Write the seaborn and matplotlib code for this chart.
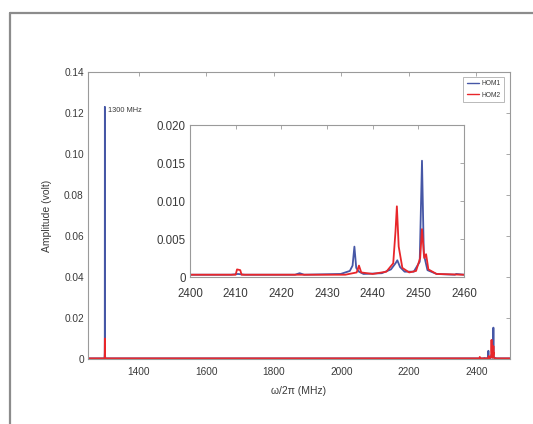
import matplotlib
matplotlib.use("Agg")
import matplotlib.pyplot as plt
import seaborn as sns
import pandas as pd
from matplotlib.lines import Line2D

# ---- data ----
hom1_freq = [1250, 1299, 1299.7, 1300, 1300.3, 1301, 2400, 2409, 2410.5, 2412, 2423, 2424, 2425,
             2433, 2435, 2435.6, 2436, 2436.4, 2437, 2438, 2442, 2444, 2445, 2445.4, 2446, 2447,
             2449, 2450.3, 2450.8, 2451.2, 2452, 2454, 2458, 2458.3, 2460, 2500]
hom1_amp = [0.0003, 0.0003, 0.003, 0.123, 0.003, 0.0003, 0.0003, 0.0003, 0.0004, 0.0003, 0.0003, 0.0005, 0.0003,
            0.0004, 0.0008, 0.0015, 0.004, 0.0012, 0.0007, 0.0004, 0.0005, 0.001, 0.0018, 0.0022, 0.0013, 0.0007,
            0.0007, 0.002, 0.0153, 0.003, 0.0009, 0.0004, 0.0003, 0.0004, 0.0003, 0.0003]

hom2_freq = [1250, 1299.5, 1300, 1300.5, 2400, 2410, 2410.3, 2411, 2411.3, 2424, 2434, 2436.5, 2437,
             2437.5, 2440, 2443, 2444.5, 2445, 2445.3, 2445.7, 2446.5, 2448, 2449.5, 2450.4, 2450.8,
             2451.3, 2451.7, 2452.2, 2454, 2460, 2500]
hom2_amp = [0.0003, 0.0003, 0.01, 0.0003, 0.0003, 0.0003, 0.001, 0.0009, 0.0003, 0.0003, 0.0003, 0.0006, 0.0015,
            0.0006, 0.0004, 0.0007, 0.0018, 0.006, 0.0093, 0.004, 0.0012, 0.0006, 0.0008, 0.0025, 0.0063,
            0.0025, 0.003, 0.001, 0.0004, 0.0003, 0.0003]

series_names = ["HOM1", "HOM2"]
main_xticks = [1400, 1600, 1800, 2000, 2200, 2400]
main_yticks = [0, 0.02, 0.04, 0.06, 0.08, 0.10, 0.12, 0.14]
main_yticklabels = ["0", "0.02", "0.04", "0.06", "0.08", "0.10", "0.12", "0.14"]
inset_xticks = [2400, 2410, 2420, 2430, 2440, 2450, 2460]
inset_yticks = [0, 0.005, 0.010, 0.015, 0.020]
inset_yticklabels = ["0", "0.005", "0.010", "0.015", "0.020"]

df = pd.concat([
    pd.DataFrame({"freq": hom1_freq, "amp": hom1_amp, "series": series_names[0]}),
    pd.DataFrame({"freq": hom2_freq, "amp": hom2_amp, "series": series_names[1]}),
], ignore_index=True)

sns.set_style("white")
plt.rcParams["font.family"] = ["Liberation Sans", "DejaVu Sans"]

palette = {"HOM1": "#4657a6", "HOM2": "#e8262a"}
text_col = "#3a3a3a"
spine_col = "#9a9a9a"

fig = plt.figure(figsize=(5.33, 4.24), dpi=100)

# outer frame (partially visible)
fig.add_artist(Line2D([10/533, 10/533], [0, 1 - 13/424], color="#8c8c8c", lw=1.6, transform=fig.transFigure))
fig.add_artist(Line2D([10/533, 1], [1 - 13/424, 1 - 13/424], color="#8c8c8c", lw=1.6, transform=fig.transFigure))

ax = fig.add_axes([88/533, 1 - 359/424, (510 - 88)/533, (359 - 72)/424])
sns.lineplot(data=df, x="freq", y="amp", hue="series", palette=palette, estimator=None,
             sort=False, lw=1.3, ax=ax)
ax.set_xlim(1250, 2500)
ax.set_ylim(0, 0.14)
ax.set_xticks(main_xticks)
ax.set_xticklabels([str(t) for t in main_xticks])
ax.set_yticks(main_yticks)
ax.set_yticklabels(main_yticklabels)
ax.tick_params(direction="in", top=True, right=True, length=3, width=0.6, colors=spine_col,
               labelcolor=text_col, labelsize=7.3, pad=3)
ax.tick_params(axis="x", pad=6)
for s in ax.spines.values():
    s.set_color(spine_col)
    s.set_linewidth(0.8)
ax.set_xlabel("ω/2π (MHz)", fontsize=7.5, color=text_col, labelpad=6)
ax.set_ylabel("Amplitude (volt)", fontsize=7.5, color=text_col, labelpad=9)
ax.text(1309, 0.121, "1300 MHz", fontsize=5.3, color=text_col, va="center", ha="left")

handles = [Line2D([], [], color=palette[n], lw=1.0) for n in series_names]
leg = ax.legend(handles, series_names, loc="upper right", bbox_to_anchor=(0.993, 0.995),
                fontsize=4.8, frameon=True, fancybox=False, handlelength=1.8,
                borderpad=0.5, labelspacing=0.7, handletextpad=0.4)
leg.get_frame().set_edgecolor("#9a9a9a")
leg.get_frame().set_linewidth(0.6)
for t in leg.get_texts():
    t.set_color(text_col)

# inset
axi = fig.add_axes([190/533, 1 - 277/424, (464 - 190)/533, (277 - 125)/424])
sns.lineplot(data=df, x="freq", y="amp", hue="series", palette=palette, estimator=None,
             sort=False, lw=1.3, ax=axi, legend=False)
axi.set_xlim(2400, 2460)
axi.set_ylim(0, 0.020)
axi.set_xticks(inset_xticks)
axi.set_xticklabels([str(t) for t in inset_xticks])
axi.set_yticks(inset_yticks)
axi.set_yticklabels(inset_yticklabels)
axi.tick_params(direction="in", top=True, right=True, length=3, width=0.6, colors=spine_col,
                labelcolor=text_col, labelsize=8.3, pad=3)
axi.tick_params(axis="x", pad=8)
for s in axi.spines.values():
    s.set_color(spine_col)
    s.set_linewidth(0.8)
axi.set_xlabel("")
axi.set_ylabel("")

fig.savefig("out.png", dpi=100)
